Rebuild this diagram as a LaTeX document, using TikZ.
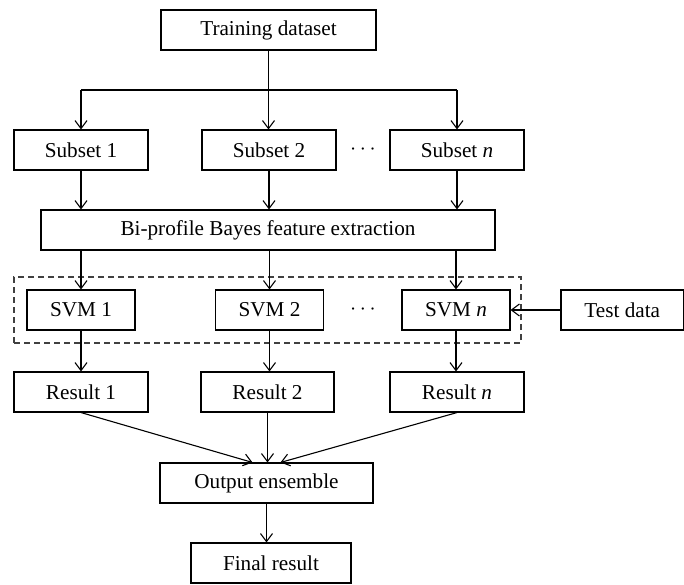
\documentclass[tikz,border=0pt]{standalone}
\usepackage{fontspec}
\setmainfont{Liberation Serif}
\usetikzlibrary{arrows.meta}
\begin{document}
\begin{tikzpicture}[x=0.5pt,y=-0.5pt,
  box/.style={draw, line width=0.55pt, inner sep=0pt, minimum height=20pt, font=\fontsize{10.6}{12}\selectfont},
  dots/.style={inner sep=0pt, font=\fontsize{10.6}{12}\selectfont},
  grpbox/.style={draw=black!75, line width=0.6pt, dash pattern=on 3pt off 2pt, inner sep=0pt},
  line/.style={line width=0.55pt},
  conn/.style={line width=0.55pt, -{Straight Barb[length=4pt,width=6pt,line width=0.55pt]}}]
\useasboundingbox (0,0) rectangle (684,584);
% nodes
\node[box, minimum width=107.5pt] (train) at (268.5,30) {Training dataset};
\node[box, minimum width=67pt] (s1) at (81,150) {Subset 1};
\node[box, minimum width=67pt] (s2) at (269,150) {Subset 2};
\node[box, minimum width=67pt] (sn) at (457,150) {Subset \textit{n}};
\node[dots] (d1) at (363,150) {$\cdots$};
\node[box, minimum width=227pt] (bi) at (268,230) {Bi-profile Bayes feature extraction};
\node[grpbox, minimum width=253.5pt, minimum height=33pt] (grp) at (267.5,310) {};
\node[box, minimum width=54pt] (v1) at (81,310) {SVM 1};
\node[box, minimum width=54pt] (v2) at (269.5,310) {SVM 2};
\node[box, minimum width=54pt] (vn) at (456,310) {SVM \textit{n}};
\node[dots] (d2) at (363,310) {$\cdots$};
\node[box, minimum width=61.25pt] (test) at (622.25,310) {Test data};
\node[box, minimum width=67pt] (r1) at (81,392) {Result 1};
\node[box, minimum width=66.5pt] (r2) at (267.5,392) {Result 2};
\node[box, minimum width=67pt] (rn) at (457,392) {Result \textit{n}};
\node[box, minimum width=106.5pt] (out) at (266.5,483) {Output ensemble};
\node[box, minimum width=80pt] (fin) at (271,563) {Final result};
% connectors
\coordinate (jl) at (81,90);
\coordinate (jr) at (457,90);
\draw[line] (jl) -- (jr);
\draw[conn] (jl) -- (s1.north);
\draw[conn] (train.south) -- (train.south |- s2.north);
\draw[conn] (jr) -- (sn.north);
\draw[conn] (s1.south) -- (s1.south |- bi.north);
\draw[conn] (s2.south) -- (s2.south |- bi.north);
\draw[conn] (sn.south) -- (sn.south |- bi.north);
\draw[conn] (v1.north |- bi.south) -- (v1.north);
\draw[conn] (v2.north |- bi.south) -- (v2.north);
\draw[conn] (vn.north |- bi.south) -- (vn.north);
\draw[conn] (v1.south) -- (v1.south |- r1.north);
\draw[conn] (v2.south) -- (v2.south |- r2.north);
\draw[conn] (vn.south) -- (vn.south |- rn.north);
\draw[conn] (test.west) -- (vn.east);
\draw[conn] (r1.south) -- ([xshift=-7pt]out.north);
\draw[conn] (r2.south) -- (r2.south |- out.north);
\draw[conn] (rn.south) -- ([xshift=7pt]out.north);
\draw[conn] (out.south) -- (out.south |- fin.north);
\end{tikzpicture}
\end{document}
